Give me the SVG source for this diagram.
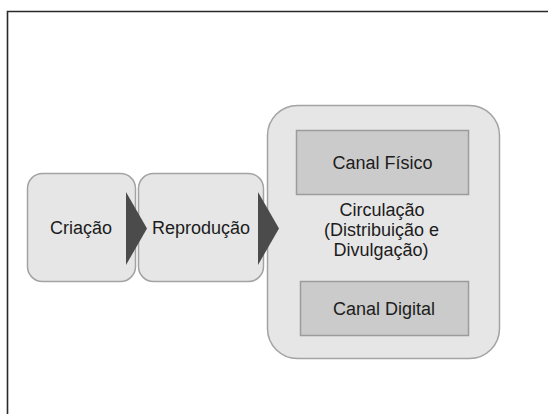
<svg xmlns="http://www.w3.org/2000/svg" width="548" height="414" viewBox="0 0 548 414">
  <style>
    .box { fill: #e6e6e6; stroke: #a3a3a3; stroke-width: 1.5; }
    .inner { fill: #cbcbcb; stroke: #9c9c9c; stroke-width: 1.5; }
    .arrow { fill: #4b4b4b; }
    text { font-family: "Liberation Sans", Arial, sans-serif; font-size: 18px; fill: #1c1c1c; text-anchor: middle; }
  </style>
  <rect x="0" y="0" width="548" height="414" fill="#ffffff"/>
  <path d="M7.5 414 V11.5 H548" fill="none" stroke="#2a2a2a" stroke-width="1.6"/>

  <g id="criacao">
    <rect class="box" x="27.5" y="173.5" width="108" height="108" rx="15" ry="15"/>
    <text x="81" y="234">Criação</text>
  </g>
  <g id="reproducao">
    <rect class="box" x="138.5" y="173.5" width="125" height="108" rx="15" ry="15"/>
    <text x="201" y="234">Reprodução</text>
  </g>
  <g id="circulacao">
    <rect class="box" x="267.5" y="105.5" width="232" height="253" rx="30" ry="30"/>
    <text x="382" y="215.5">Circulação</text>
    <text x="381.5" y="235.5">(Distribuição e</text>
    <text x="381" y="255.5">Divulgação)</text>
  </g>
  <g id="canal-fisico">
    <rect class="inner" x="296.5" y="130.5" width="172" height="64"/>
    <text x="382.5" y="169">Canal Físico</text>
  </g>
  <g id="canal-digital">
    <rect class="inner" x="300.5" y="281.5" width="168" height="54"/>
    <text x="384" y="315">Canal Digital</text>
  </g>

  <g id="connectors">
    <polygon class="arrow" points="126,192 147,228.5 126,265"/>
    <polygon class="arrow" points="258,192 279,228.5 258,265"/>
  </g>
</svg>
